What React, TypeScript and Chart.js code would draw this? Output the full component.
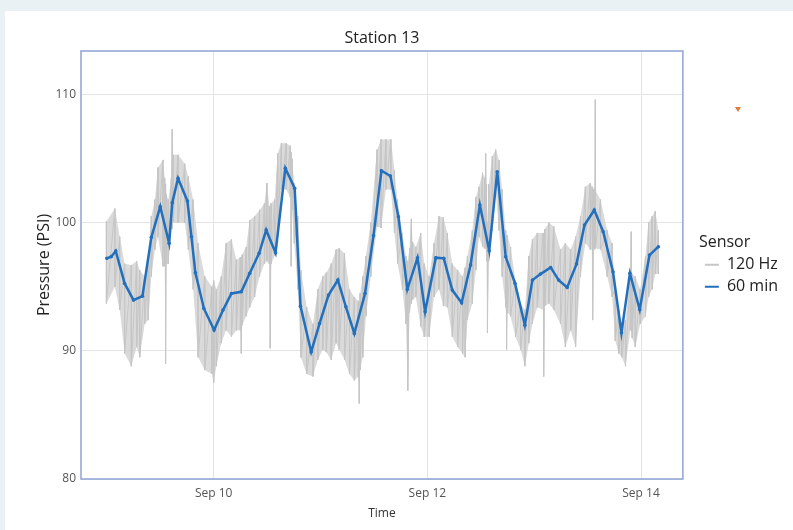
import React, { useEffect, useRef } from "react";
import { Chart, registerables } from "chart.js";

Chart.register(...registerables);

// ---------- text ----------
const TITLE = "Station 13";
const Y_TITLE = "Pressure (PSI)";
const X_TITLE = "Time";
const LEGEND_TITLE = "Sensor";
const SERIES_HZ = "120 Hz";
const SERIES_60 = "60 min";

// x values are hours after Sep 8 00:00
const X_MIN = 18.2;
const X_MAX = 153.4;
const X_TICK_HOURS = [48, 96, 144];
const X_TICK_LABELS = ["Sep 10", "Sep 12", "Sep 14"];
const Y_MIN = 80;
const Y_MAX = 113.4;
const Y_TICKS = [80, 90, 100, 110];

// ---------- 60 min series ----------
const min60Hours = [
  24, 25, 26, 28, 30, 32, 34, 36, 38, 38.7, 40, 42.1, 43, 43.9, 45.8, 48.1,
  50.1, 52, 54.2, 56.1, 58.2, 59.8, 61.9, 64.1, 66.2, 67.5, 69.9, 71.8, 73.8,
  75.9, 77.7, 79.6, 82, 83.9, 85.7, 87.7, 89.5, 91.5, 93.8, 95.5, 97.9, 99.7,
  101.6, 103.7, 105.7, 107.8, 109.9, 111.7, 113.6, 115.7, 117.9, 119.6, 121.4,
  123.7, 125.5, 127.4, 129.5, 131.3, 133.5, 135.5, 137.7, 139.6, 141.5, 143.7,
  145.9, 147.9,
];
const min60Values = [
  97.22, 97.35, 97.79, 95.26, 93.96, 94.27, 98.86, 101.25, 98.39, 101.56,
  103.47, 101.7, 98.91, 96.09, 93.31, 91.62, 93.18, 94.48, 94.61, 96.05, 97.61,
  99.43, 97.66, 104.25, 102.69, 93.49, 89.92, 92.14, 94.35, 95.52, 93.44,
  91.36, 94.48, 98.98, 104.06, 103.65, 100.47, 94.8, 97.27, 93.05, 97.27,
  97.22, 94.74, 93.75, 96.7, 101.38, 97.81, 103.98, 97.34, 95.26, 92.0, 95.52,
  95.99, 96.51, 95.52, 94.95, 96.77, 99.82, 100.99, 99.3, 96.17, 91.41, 96.05,
  93.23, 97.48, 98.13,
];

// ---------- 120 Hz series (upper / lower extent of the trace) ----------
const hzHours = [
  23.9, 25.8, 26.9, 28.0, 29.5, 30.7, 31.4, 32.5, 33.3, 34.0, 34.8, 35.5, 36.6,
  37.0, 37.2, 37.4, 37.8, 38.5, 38.7, 38.9, 40.0, 41.5, 42.3, 43.4, 44.5, 46.0,
  47.6, 48.0, 48.6, 49.7, 50.8, 52.0, 53.1, 54.0, 54.2, 54.4, 55.3, 56.1, 57.2,
  58.3, 59.4, 59.95, 60.5, 60.7, 60.9, 61.7, 62.4, 63.2, 64.3, 65.2, 65.4, 65.6,
  66.1, 66.9, 67.6, 68.9, 70.3, 71.4, 72.5, 73.3, 74.4, 75.5, 76.2, 77.4, 78.5,
  79.6, 80.5, 80.7, 80.9, 81.5, 82.2, 83.3, 84.7, 85.6, 86.7, 87.8, 88.6, 89.3,
  90.4, 91.2, 91.6, 92.0, 92.4, 92.7, 93.4, 94.5, 95.3, 96.4, 97.5, 98.6, 99.6,
  100.5, 101.6, 102.8, 103.9, 104.5, 105.0, 106.1, 106.9, 107.6, 108.4, 108.9,
  109.1, 109.3, 109.5, 109.8, 110.6, 111.35, 112.1, 112.8, 113.6, 113.8, 114.0,
  114.7, 115.8, 116.95, 117.9, 118.8, 119.6, 120.7, 122.0, 122.2, 122.4, 123.3,
  124.4, 125.9, 127.0, 128.2, 129.3, 130.4, 131.5, 132.6, 133.0, 133.2, 133.4,
  133.6, 133.7, 133.8, 134.9, 136.4, 137.5, 138.2, 139.0, 139.7, 140.5, 141.6,
  141.8, 142.0, 142.7, 143.8, 145.0, 145.7, 146.5, 147.2, 147.9,
];
const hzHigh = [
  100.1, 101.1, 98.9, 96.8, 96.7, 97.0, 96.3, 95.8, 96.8, 100.5, 101.8, 104.3,
  104.9, 103.5, 103.0, 102.2, 101.8, 103.5, 107.3, 105.3, 105.3, 104.6, 103.6,
  101.8, 98.4, 95.8, 95.0, 95.5, 94.8, 95.8, 98.4, 98.7, 97.1, 97.3, 97.3, 97.5,
  98.1, 100.2, 100.5, 101.0, 101.5, 103.1, 101.3, 101.3, 101.5, 101.8, 105.4,
  106.2, 106.2, 106.0, 105.5, 105.0, 103.1, 100.5, 96.3, 93.4, 92.1, 94.8, 95.8,
  96.1, 96.8, 97.9, 98.0, 97.6, 94.8, 94.2, 93.9, 93.7, 94.5, 95.8, 97.4, 100.0,
  105.7, 106.5, 106.5, 106.5, 104.1, 101.8, 99.2, 97.4, 97.0, 98.0, 100.3, 98.5,
  98.1, 99.2, 96.8, 95.8, 98.4, 100.5, 100.4, 99.2, 96.8, 96.3, 95.8, 96.5, 97.4,
  99.4, 102.0, 102.8, 103.9, 103.5, 105.4, 103.0, 100.0, 103.0, 105.2, 105.7,
  104.9, 102.6, 99.4, 99.0, 99.0, 98.1, 95.5, 93.7, 93.2, 97.4, 98.7, 99.2, 99.2,
  99.2, 99.5, 100.0, 99.7, 97.9, 98.4, 97.9, 98.9, 100.5, 102.8, 103.1, 102.8,
  102.5, 102.6, 102.7, 109.6, 102.5, 101.8, 99.4, 98.4, 94.8, 93.2, 92.1, 92.4,
  96.0, 99.3, 96.0, 95.8, 94.8, 97.4, 100.0, 100.5, 100.9, 99.4,
];
const hzLow = [
  93.7, 95.0, 93.2, 89.8, 88.8, 90.3, 89.5, 92.1, 92.4, 95.8, 97.9, 98.9, 96.6,
  96.6, 89.0, 96.8, 96.8, 99.5, 99.5, 100.0, 100.0, 100.0, 97.9, 94.8, 89.5,
  88.5, 88.2, 87.5, 88.8, 90.6, 91.6, 91.1, 91.6, 91.6, 89.8, 92.0, 92.7, 93.4,
  94.2, 95.8, 96.8, 97.0, 96.8, 90.2, 96.8, 97.4, 99.0, 102.6, 102.6, 102.0,
  96.6, 101.0, 98.4, 94.8, 89.5, 88.2, 88.0, 89.3, 90.1, 89.9, 89.3, 90.6, 90.1,
  89.3, 88.2, 87.7, 88.0, 85.9, 88.5, 89.5, 92.7, 95.8, 99.7, 99.6, 102.6, 102.6,
  99.2, 96.8, 94.8, 92.1, 86.9, 93.0, 93.7, 94.0, 94.2, 91.9, 91.1, 91.1, 94.2,
  94.8, 93.5, 93.4, 91.1, 90.3, 89.8, 89.5, 92.4, 93.7, 96.3, 98.9, 98.1, 98.0,
  98.0, 97.0, 91.4, 97.0, 99.4, 102.6, 99.4, 95.8, 93.4, 90.1, 93.0, 92.7, 91.1,
  90.1, 88.8, 90.6, 92.1, 93.4, 93.2, 88.0, 93.5, 93.7, 93.2, 92.1, 90.3, 91.6,
  90.3, 95.8, 98.4, 97.9, 97.9, 92.4, 97.9, 98.0, 98.0, 98.0, 97.9, 95.8, 94.2,
  90.8, 89.8, 89.5, 88.8, 91.6, 91.6, 91.0, 90.3, 92.1, 92.7, 94.2, 94.8, 96.0,
  96.0,
];

const BLUE = "#2270bd";
const GREY = "#c6c6c6";
const FRAME = "#8fa3d6";
const FONT = "'Open Sans', 'DejaVu Sans', sans-serif";

const framePlugin = {
  id: "frame",
  afterDraw(chart: any) {
    const { ctx, chartArea } = chart;
    ctx.save();
    ctx.strokeStyle = FRAME;
    ctx.lineWidth = 1.5;
    ctx.strokeRect(
      chartArea.left,
      chartArea.top,
      chartArea.right - chartArea.left,
      chartArea.bottom - chartArea.top
    );
    ctx.restore();
  },
};

export default function App() {
  const canvasRef = useRef<HTMLCanvasElement | null>(null);

  useEffect(() => {
    document.body.style.margin = "0";
    const canvas = canvasRef.current;
    if (!canvas) return;

    const zigzag = hzHours.flatMap((t, i) => [
      { x: t, y: hzHigh[i] },
      { x: t, y: hzLow[i] },
    ]);
    const bandHigh = hzHours.map((t, i) => ({ x: t, y: hzHigh[i] }));
    const bandLow = hzHours.map((t, i) => ({ x: t, y: hzLow[i] }));
    const line60 = min60Hours.map((t, i) => ({ x: t, y: min60Values[i] }));

    const defaultLabels = (Chart.defaults as any).plugins.legend.labels.generateLabels;

    const chart = new Chart(canvas, {
      type: "line",
      data: {
        datasets: [
          {
            label: SERIES_HZ,
            data: zigzag,
            borderColor: GREY,
            backgroundColor: GREY,
            borderWidth: 1,
            pointRadius: 0,
            fill: false,
            order: 2,
            xAxisID: "x",
            yAxisID: "y",
          },
          {
            label: "_bandHigh",
            data: bandHigh,
            borderColor: "rgba(0,0,0,0)",
            borderWidth: 0,
            pointRadius: 0,
            fill: false,
            order: 3,
            xAxisID: "x",
            yAxisID: "y",
          },
          {
            label: "_bandLow",
            data: bandLow,
            borderColor: "rgba(0,0,0,0)",
            backgroundColor: "rgba(204,204,204,0.72)",
            borderWidth: 0,
            pointRadius: 0,
            fill: "-1",
            order: 3,
            xAxisID: "x",
            yAxisID: "y",
          },
          {
            label: SERIES_60,
            data: line60,
            borderColor: BLUE,
            backgroundColor: BLUE,
            pointBackgroundColor: BLUE,
            pointBorderColor: BLUE,
            borderWidth: 2.5,
            pointRadius: 1.8,
            pointBorderWidth: 0,
            fill: false,
            tension: 0,
            order: 0,
            xAxisID: "x",
            yAxisID: "y",
          },
        ],
      },
      options: {
        responsive: false,
        animation: false,
        parsing: false as any,
        normalized: true,
        layout: { padding: { left: 0, top: 28.4, right: 5, bottom: 6 } },
        plugins: {
          title: {
            display: true,
            text: TITLE,
            fullSize: false,
            color: "#222",
            font: { family: FONT, size: 16, weight: "normal" },
            padding: { top: 0, bottom: 3.4 },
          },
          legend: {
            display: true,
            position: "right",
            align: "start",
            title: {
              display: true,
              text: LEGEND_TITLE,
              color: "#222",
              position: "start",
              font: { family: FONT, size: 16 },
              padding: { top: 205.6, bottom: -2.5 },
            } as any,
            labels: {
              color: "#222",
              font: { family: FONT, size: 16 },
              usePointStyle: true,
              pointStyle: "line",
              pointStyleWidth: 14,
              boxWidth: 14,
              padding: 6,
              generateLabels: (c: any) =>
                defaultLabels(c).map((it: any) => ({
                  ...it,
                  lineWidth: 2,
                  strokeStyle: it.text === SERIES_60 ? BLUE : GREY,
                })),
              filter: (item: any) => item.text === SERIES_HZ || item.text === SERIES_60,
              sort: (a: any, b: any) => a.datasetIndex - b.datasetIndex,
            },
          },
          tooltip: { enabled: false },
        },
        scales: {
          x: {
            type: "linear",
            position: "bottom",
            min: X_MIN,
            max: X_MAX,
            afterBuildTicks: (axis: any) => {
              axis.ticks = X_TICK_HOURS.map((v) => ({ value: v }));
            },
            afterFit: (s: any) => {
              s.height = 45;
            },
            ticks: {
              padding: 7,
              color: "#555",
              font: { family: FONT, size: 12 },
              autoSkip: false,
              maxRotation: 0,
              callback: (v: any) => {
                const i = X_TICK_HOURS.indexOf(Number(v));
                return i >= 0 ? X_TICK_LABELS[i] : "";
              },
            },
            grid: { color: "#e4e4e4", lineWidth: 1, drawTicks: false },
            border: { display: false },
            title: {
              display: true,
              text: X_TITLE,
              color: "#333",
              font: { family: FONT, size: 12 },
              padding: { top: 0, bottom: 3 },
            },
          },
          y: {
            type: "linear",
            position: "left",
            min: Y_MIN,
            max: Y_MAX,
            afterBuildTicks: (axis: any) => {
              axis.ticks = Y_TICKS.map((v) => ({ value: v }));
            },
            afterFit: (s: any) => {
              s.width = 81;
            },
            ticks: {
              padding: 5,
              color: "#555",
              font: { family: FONT, size: 12 },
              callback: (v: any) => String(v),
            },
            grid: { color: "#e4e4e4", lineWidth: 1, drawTicks: false },
            border: { display: false },
            title: {
              display: true,
              text: Y_TITLE,
              color: "#222",
              font: { family: FONT, size: 16 },
              padding: { top: 34.4, bottom: 0 },
            },
          },
          gap: {
            type: "linear",
            position: "right",
            display: true,
            grid: { display: false, drawTicks: false },
            ticks: { display: false },
            border: { display: false },
            afterFit: (s: any) => {
              s.width = 16;
            },
          },
        },
      },
      plugins: [framePlugin],
    } as any);

    return () => chart.destroy();
  }, []);

  return (
    <div
      style={{
        position: "fixed",
        left: 0,
        top: 0,
        width: 793,
        height: 530,
        background: "#e9f1f5",
        overflow: "hidden",
      }}
    >
      <div
        style={{
          position: "absolute",
          left: 5,
          top: 11,
          right: 0,
          bottom: 0,
          background: "#ffffff",
        }}
      />
      <canvas
        ref={canvasRef}
        width={793}
        height={530}
        style={{ position: "absolute", left: 0, top: 0 }}
      />
      <div
        style={{
          position: "absolute",
          left: 735,
          top: 107,
          width: 0,
          height: 0,
          borderLeft: "3px solid transparent",
          borderRight: "3px solid transparent",
          borderTop: "5px solid #e07b39",
        }}
      />
    </div>
  );
}
